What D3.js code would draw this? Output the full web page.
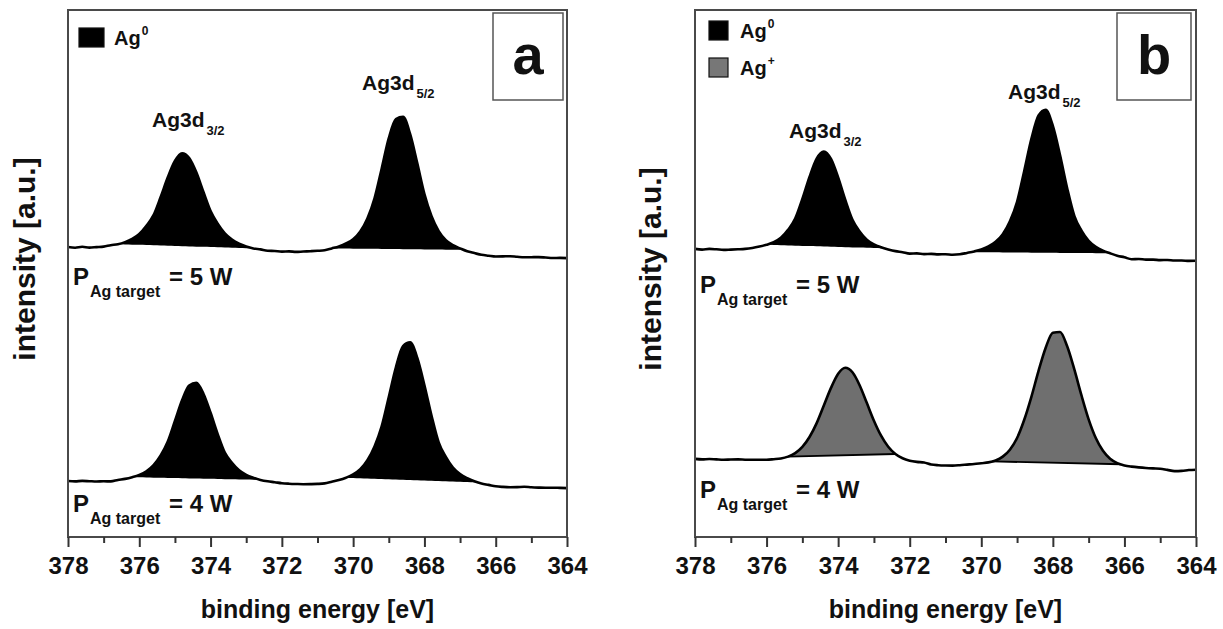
<!DOCTYPE html>
<html><head><meta charset="utf-8">
<script src="https://cdn.jsdelivr.net/npm/d3@7"></script>
<style>
body{margin:0;background:#fff;}
svg{display:block;}
text{font-family:"Liberation Sans",Arial,Helvetica,sans-serif;font-weight:bold;fill:#111;}
</style></head><body>
<svg id="chart" width="1223" height="629"></svg>
<script>
// ---------- data ----------
const energies = [
 378.0,377.8,377.6,377.4,377.2,377.0,376.8,376.6,376.4,376.2,
 376.0,375.8,375.6,375.4,375.2,375.0,374.8,374.6,374.4,374.2,
 374.0,373.8,373.6,373.4,373.2,373.0,372.8,372.6,372.4,372.2,
 372.0,371.8,371.6,371.4,371.2,371.0,370.8,370.6,370.4,370.2,
 370.0,369.8,369.6,369.4,369.2,369.0,368.8,368.6,368.4,368.2,
 368.0,367.8,367.6,367.4,367.2,367.0,366.8,366.6,366.4,366.2,
 366.0,365.8,365.6,365.4,365.2,365.0,364.8,364.6,364.4,364.2,
 364.0];
// panel a, P = 5 W (Ag0)
const aUpper5W = [
 2900,2893,2902,2894,2899,2904,2918,2928,2949,2981,
 3031,3113,3218,3400,3597,3760,3837,3790,3647,3450,
 3259,3133,3036,2974,2933,2905,2886,2876,2863,2860,
 2854,2856,2851,2855,2858,2862,2867,2886,2906,2935,
 2977,3055,3185,3387,3683,3988,4180,4202,4028,3737,
 3430,3208,3059,2968,2918,2886,2857,2839,2822,2813,
 2805,2806,2808,2802,2797,2798,2799,2795,2790,2791,
 2789];
// panel a, P = 4 W (Ag0)
const aLower4W = [
 560,556,561,558,555,557,556,570,581,598,
 621,658,720,816,955,1160,1367,1515,1541,1433,
 1242,1029,843,743,668,622,593,571,557,548,
 538,533,530,528,529,531,536,552,569,593,
 626,678,768,906,1106,1400,1697,1908,1946,1791,
 1518,1212,946,801,694,629,588,557,534,521,
 507,501,498,499,502,497,494,492,493,491,
 489];
// panel b, P = 5 W (Ag0)
const bUpper5W = [
 2881,2874,2881,2877,2871,2874,2877,2881,2890,2904,
 2922,2948,2992,3071,3184,3380,3601,3784,3855,3780,
 3595,3370,3172,3056,2974,2926,2897,2876,2859,2848,
 2834,2836,2829,2831,2826,2828,2823,2827,2841,2856,
 2876,2907,2952,3028,3157,3352,3660,3981,4215,4273,
 4110,3820,3488,3211,3064,2962,2902,2864,2837,2813,
 2797,2778,2780,2774,2774,2769,2770,2765,2765,2761,
 2762];
// panel b, P = 4 W (Ag+)
const bLower4W = [
 781,776,780,776,773,775,776,773,772,773,
 773,778,785,804,839,901,1000,1139,1315,1491,
 1633,1693,1647,1518,1342,1163,1013,902,830,787,
 763,751,745,725,718,715,714,718,724,730,
 738,746,765,804,873,990,1172,1402,1662,1893,
 2043,2050,1907,1676,1416,1177,990,862,783,739,
 716,704,696,690,686,683,671,659,661,670,
 673];
// peak integration windows [start eV, end eV]
const aUpperWindows = [[376.6, 372.8], [370.6, 366.9]];
const aLowerWindows = [[376.2, 372.6], [370.2, 366.5]];
const bUpperWindows = [[376.0, 372.7], [370.3, 366.4]];
const bLowerWindows = [[375.4, 372.4], [369.7, 366.1]];
const xTicks = [378, 376, 374, 372, 370, 368, 366, 364];
const xMinorTicks = [377, 375, 373, 371, 369, 367, 365];
const xDomain = [378, 364];
const yDomain = [0, 5270];
const peakNames = ["3/2", "5/2"];

// ---------- layout ----------
const svg = d3.select("#chart");
const plotTop = 10, plotBottom = 537;
const panels = [
  { letter: "a", x0: 68, x1: 567,
    spectra: [
      {vals: aUpper5W, windows: aUpperWindows, fill: "#000", outline: false},
      {vals: aLower4W, windows: aLowerWindows, fill: "#000", outline: false}],
    legend: [{label:"0", fill:"#000"}],
    legendBox: {x: 11, y: 18, w: 25, h: 19, dy: 37, tx: 46},
    letterBox: {x: 425, y: 3, w: 70, h: 87},
    ylabel: {x: 35, y: 259},
    plabels: [{y: 285, text: "5 W"}, {y: 512, text: "4 W"}],
    peakLabels: [{x: 152, y: 127, name: peakNames[0]}, {x: 362, y: 90, name: peakNames[1]}]
  },
  { letter: "b", x0: 695, x1: 1196,
    spectra: [
      {vals: bUpper5W, windows: bUpperWindows, fill: "#000", outline: false},
      {vals: bLower4W, windows: bLowerWindows, fill: "#6f6f6f", outline: true}],
    legend: [{label:"0", fill:"#000"}, {label:"+", fill:"#777"}],
    legendBox: {x: 14, y: 11, w: 19, h: 19, dy: 37, tx: 45},
    letterBox: {x: 422, y: 3, w: 74, h: 87},
    ylabel: {x: 661, y: 269},
    plabels: [{y: 293, text: "5 W"}, {y: 498, text: "4 W"}],
    peakLabels: [{x: 789, y: 138, name: peakNames[0]}, {x: 1008, y: 99, name: peakNames[1]}]
  }
];

function interpAt(E, vals) {
  for (let i = 0; i < energies.length - 1; i++) {
    const a = energies[i], b = energies[i + 1];
    if (E <= a && E >= b) {
      const t = (a - E) / (a - b);
      return vals[i] + (vals[i + 1] - vals[i]) * t;
    }
  }
  return vals[vals.length - 1];
}

panels.forEach(p => {
  const x = d3.scaleLinear().domain(xDomain).range([p.x0, p.x1]);
  const y = d3.scaleLinear().domain(yDomain).range([plotBottom, plotTop]);
  const g = svg.append("g");

  p.spectra.forEach(s => {
    const pts = energies.map((e, i) => [e, s.vals[i]]);
    s.windows.forEach(([e1, e2]) => {
      const v1 = interpAt(e1, s.vals), v2 = interpAt(e2, s.vals);
      const inner = pts.filter(d => d[0] < e1 && d[0] > e2);
      const fp = [[e1, v1], ...inner, [e2, v2]];
      const chord = e => v1 + (v2 - v1) * (e - e1) / (e2 - e1);
      g.append("path").datum(fp)
        .attr("d", d3.area().x(d => x(d[0])).y0(d => y(chord(d[0]))).y1(d => y(d[1])).curve(d3.curveMonotoneX))
        .attr("fill", s.fill).attr("stroke", "none");
      if (s.outline) {
        g.append("line").attr("x1", x(e1)).attr("y1", y(v1)).attr("x2", x(e2)).attr("y2", y(v2))
          .attr("stroke", "#000").attr("stroke-width", 1.8);
      }
    });
    g.append("path").datum(pts)
      .attr("d", d3.line().x(d => x(d[0])).y(d => y(d[1])).curve(d3.curveMonotoneX))
      .attr("fill", "none").attr("stroke", "#000").attr("stroke-width", 2.6)
      .attr("stroke-linejoin", "round");
  });

  g.append("rect").attr("x", p.x0).attr("y", plotTop).attr("width", p.x1 - p.x0).attr("height", plotBottom - plotTop)
    .attr("fill", "none").attr("stroke", "#4a4a4a").attr("stroke-width", 2);

  const ax = g.append("g").attr("transform", `translate(0,${plotBottom})`)
    .call(d3.axisBottom(x).tickValues(xTicks).tickSize(10).tickPadding(10).tickFormat(d3.format("d")));
  ax.select(".domain").remove();
  ax.selectAll("line").attr("stroke", "#333").attr("stroke-width", 2);
  ax.selectAll("text").attr("font-size", 24).attr("font-family", "Liberation Sans, Arial, sans-serif")
    .attr("font-weight", "bold").attr("fill", "#111");
  const axm = g.append("g").attr("transform", `translate(0,${plotBottom})`)
    .call(d3.axisBottom(x).tickValues(xMinorTicks).tickSize(6).tickFormat(""));
  axm.select(".domain").remove();
  axm.selectAll("line").attr("stroke", "#333").attr("stroke-width", 2);

  g.append("text").attr("x", (p.x0 + p.x1) / 2).attr("y", 618).attr("text-anchor", "middle")
    .attr("font-size", 25).text("binding energy [eV]");
  g.append("text").attr("transform", `translate(${p.ylabel.x},${p.ylabel.y}) rotate(-90)`)
    .attr("text-anchor", "middle").attr("font-size", 30).text("intensity [a.u.]");

  const lb = p.letterBox;
  g.append("rect").attr("x", p.x0 + lb.x).attr("y", plotTop + lb.y).attr("width", lb.w).attr("height", lb.h)
    .attr("fill", "#fff").attr("stroke", "#555").attr("stroke-width", 1.5);
  g.append("text").attr("x", p.x0 + lb.x + lb.w / 2).attr("y", plotTop + lb.y + 61)
    .attr("text-anchor", "middle").attr("font-size", 56).text(p.letter);

  const L = p.legendBox;
  p.legend.forEach((item, i) => {
    g.append("rect").attr("x", p.x0 + L.x).attr("y", plotTop + L.y + i * L.dy).attr("width", L.w).attr("height", L.h)
      .attr("fill", item.fill).attr("stroke", "#111").attr("stroke-width", 1.2);
    const t = g.append("text").attr("x", p.x0 + L.tx).attr("y", plotTop + L.y + L.h - 2 + i * L.dy).attr("font-size", 20);
    t.append("tspan").text("Ag");
    t.append("tspan").attr("dy", -10).attr("dx", 1).attr("font-size", 12).text(item.label);
  });

  p.plabels.forEach(pl => {
    const t = g.append("text").attr("y", pl.y).attr("font-size", 24);
    t.append("tspan").attr("x", p.x0 + 5).text("P");
    t.append("tspan").attr("x", p.x0 + 22).attr("dy", 12).attr("font-size", 16).text("Ag target");
    t.append("tspan").attr("x", p.x0 + 101).attr("dy", -12).text("= " + pl.text);
  });

  p.peakLabels.forEach(pk => {
    const t = g.append("text").attr("x", pk.x).attr("y", pk.y).attr("font-size", 21);
    t.append("tspan").text("Ag3d");
    t.append("tspan").attr("dy", 8).attr("dx", 2).attr("font-size", 13).text(pk.name);
  });
});
</script>
</body></html>
